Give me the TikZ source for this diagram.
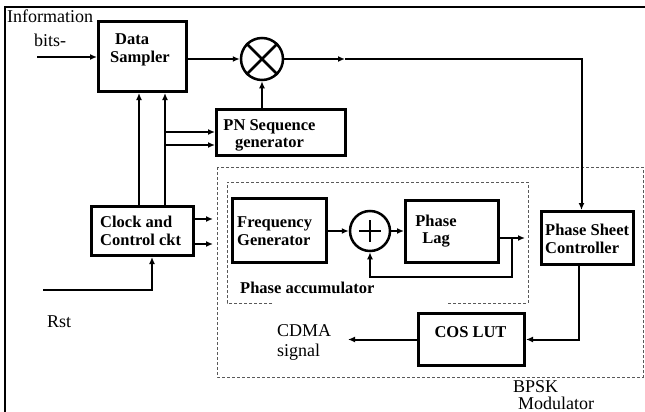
\documentclass[tikz,border=0pt]{standalone}
\usepackage{fontspec}
\setmainfont{Liberation Serif}
\usetikzlibrary{positioning, arrows.meta}
\newcommand{\blkfont}{\fontsize{16.5}{17.5}\selectfont\bfseries}
\newcommand{\txtfont}{\fontsize{18}{20}\selectfont}

\begin{document}
\begin{tikzpicture}[x=1pt, y=-1pt,
    blk/.style={draw, line width=3pt, inner sep=0pt},
    sum/.style={draw, circle, line width=2.5pt, minimum size=40pt, inner sep=0pt},
    lbl/.style={inner sep=0pt, font=\blkfont},
    txt/.style={inner sep=0pt, font=\txtfont},
    arr/.style={line width=2pt, -{Latex[length=7pt, width=6pt]}},
    dashbox/.style={draw=black!65, line width=1pt, dash pattern=on 3pt off 2pt}]
  \useasboundingbox (0,0) rectangle (645,412);
  \draw[line width=2pt] (5,412) -- (5,7) -- (645,7);

  % blocks
  \node[blk, minimum width=88pt, minimum height=70pt] (ds) at (142.5,56.5) {};
  \node[blk, minimum width=129pt, minimum height=46pt] (pn) at (281,132.5) {};
  \node[blk, minimum width=102pt, minimum height=49pt] (clk) at (142.5,231) {};
  \node[blk, minimum width=94pt, minimum height=64pt] (fg) at (279.5,230.5) {};
  \node[blk, minimum width=93pt, minimum height=62pt] (lag) at (452,231.5) {};
  \node[blk, minimum width=92pt, minimum height=53pt] (psc) at (587.5,238) {};
  \node[blk, minimum width=106pt, minimum height=52pt] (cos) at (471.5,339.5) {};
  \node[sum, minimum size=42pt] (mul) at (262,59) {};
  \node[sum] (add) at (370,231) {};
  \draw[line width=2.5pt] (mul.north west) -- (mul.south east) (mul.north east) -- (mul.south west);
  \draw[line width=2.5pt] (add.center) ++(-11,0) -- ++(22,0) (add.center) ++(0,-11) -- ++(0,22);

  % block texts
  \node[lbl, align=left, anchor=west] (dstxt) at (110,50) {\hspace*{5pt}Data\\Sampler};
  \node[lbl, align=center] (pntxt) at (269.5,135.5) {PN Sequence\\generator};
  \node[lbl, align=left, anchor=west] (clktxt) at (100,231) {Clock and\\Control ckt};
  \node[lbl, align=left, anchor=west] (fgtxt) at (237,231) {Frequency\\Generator};
  \node[lbl, align=center] (lagtxt) at (436,231) {Phase\\Lag};
  \node[lbl, align=left, anchor=west] (psctxt) at (545,239) {Phase Sheet\\Controller};
  \node[lbl] (costxt) at (470.5,332) {COS LUT};
  \node[lbl, anchor=west] (acctxt) at (240,288) {Phase accumulator};

  % other texts
  \node[txt, anchor=base west] (info) at (7,23) {Information};
  \node[txt, anchor=base west] (bits) at (34,47) {bits-};
  \node[txt, anchor=base west] (rsttxt) at (47,327) {Rst};
  \node[txt, align=left, anchor=west] (cdma) at (277,342) {CDMA\\signal};
  \node[txt, align=left, anchor=north west, font=\fontsize{18}{17}\selectfont] (bpsk) at (513,380) {BPSK\\\hspace*{5pt}Modulator};

  % dashed groups
  \draw[dashbox] (217,167) rectangle (643,377);
  \draw[dashbox] (272,303) -- (227,303) -- (227,182) -- (528,182) -- (528,303) -- (448,303);

  % connections
  \coordinate (din) at (37,57);
  \draw[arr] (din) -- (din -| ds.west);
  \draw[arr] (ds.east |- mul) -- (mul.west);
  \coordinate (tap) at (345,59);
  \draw[arr] (mul.east) -- (tap);
  \draw[arr] (tap) -| ([xshift=-6pt]psc.north);
  \draw[arr] (mul.south |- pn.north) -- (mul.south);
  \draw[arr] ([xshift=-3.5pt]clk.north) -- ([xshift=-3.5pt]ds.south);
  \draw[arr] ([xshift=22.5pt]clk.north) -- ([xshift=22.5pt]ds.south);
  \coordinate (br1) at (165,132);
  \coordinate (br2) at (165,145);
  \draw[arr] (br1) -- (br1 -| pn.west);
  \draw[arr] (br2) -- (br2 -| pn.west);
  \coordinate (cl1) at (213,219);
  \coordinate (cl2) at (213,244);
  \draw[arr] (cl1 -| clk.east) -- (cl1);
  \draw[arr] (cl2 -| clk.east) -- (cl2);
  \coordinate (rst) at (43,290);
  \coordinate (rk) at (152,290);
  \draw[arr] (rst) -- (rk) -- (rk |- clk.south);
  \draw[arr] (fg.east |- add) -- (add.west);
  \draw[arr] (add.east) -- (add.east -| lag.west);
  \coordinate (lo) at (525,238);
  \draw[arr] (lo -| lag.east) -- (lo);
  \coordinate (fb) at (512,238);
  \coordinate (fb2) at (512,277);
  \draw[arr] (fb) -- (fb2) -| (add.south);
  \draw[arr] ([xshift=-8.5pt]psc.south) |- (cos.east);
  \coordinate (cout) at (348,339.5);
  \draw[arr] (cos.west) -- (cout);
\end{tikzpicture}
\end{document}
